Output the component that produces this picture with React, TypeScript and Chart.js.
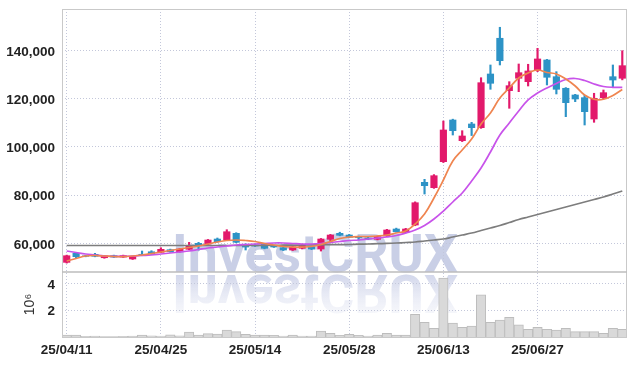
import React, { useEffect, useRef } from 'react';
import { Chart, registerables } from 'chart.js';

Chart.register(...registerables);

const dates = [
  '25/04/11', '25/04/14', '25/04/15', '25/04/16', '25/04/17', '25/04/18', '25/04/21', '25/04/22', '25/04/23', '25/04/24',
  '25/04/25', '25/04/28', '25/04/29', '25/04/30', '25/05/02', '25/05/07', '25/05/08', '25/05/09', '25/05/12', '25/05/13',
  '25/05/14', '25/05/15', '25/05/16', '25/05/19', '25/05/20', '25/05/21', '25/05/22', '25/05/23', '25/05/26', '25/05/27',
  '25/05/28', '25/05/29', '25/05/30', '25/06/02', '25/06/04', '25/06/05', '25/06/09', '25/06/10', '25/06/11', '25/06/12',
  '25/06/13', '25/06/16', '25/06/17', '25/06/18', '25/06/19', '25/06/20', '25/06/23', '25/06/24', '25/06/25', '25/06/26',
  '25/06/27', '25/06/30', '25/07/01', '25/07/02', '25/07/03', '25/07/04', '25/07/07', '25/07/08', '25/07/09', '25/07/10',
];

const opens = [
  52100, 55850, 54800, 55440, 54020, 54900, 54300, 53500, 55450, 56500,
  56270, 57350, 56520, 57510, 60000, 59710, 61780, 61370, 64150, 59590,
  59300, 59590, 58750, 58170, 57220, 57930, 58590, 57630, 61660, 64150,
  63440, 62740, 62200, 61660, 63030, 65930, 64560, 67590, 85310, 83070,
  93860, 111160, 102570, 109500, 107960, 130240, 145060, 123310, 128460, 127050,
  131610, 136050, 129120, 124310, 121530, 120420, 111570, 120410, 129120, 128460,
];
const highs = [
  55100, 56000, 55000, 55850, 55000, 55100, 55100, 54600, 56800, 56930,
  58170, 57600, 57900, 60400, 60400, 61600, 62200, 65640, 64400, 59800,
  59500, 59800, 59000, 58400, 58700, 59600, 58800, 62000, 63700, 64600,
  63700, 63000, 62500, 63000, 65800, 66300, 66200, 77200, 86550, 88500,
  110740, 111500, 106720, 110200, 128700, 133980, 149620, 127050, 134390, 134270,
  140900, 136300, 131200, 124600, 121800, 121400, 122240, 123600, 133980, 139900,
];
const lows = [
  51800, 53800, 54400, 54400, 53800, 54100, 54100, 53300, 54850, 55400,
  56100, 56300, 56300, 57300, 57200, 59500, 60400, 61200, 60200, 57220,
  58700, 57700, 58300, 57000, 57000, 57700, 57400, 56800, 60600, 63100,
  62300, 61400, 61500, 61400, 62800, 64600, 64300, 67300, 80450, 82800,
  93500, 104930, 102200, 104700, 107700, 123890, 133980, 116010, 122900, 125260,
  131200, 125680, 121950, 112530, 118750, 109080, 110200, 119900, 124970, 127800,
];
const closes = [
  54850, 54440, 54600, 54600, 54850, 54300, 54900, 54440, 54900, 55560,
  57510, 56520, 57630, 59000, 59000, 61370, 60660, 64810, 60410, 58460,
  58880, 57930, 58460, 57220, 58460, 59300, 57630, 61780, 63440, 63320,
  62490, 62320, 61780, 62740, 65520, 64810, 65930, 76840, 83900, 88050,
  107010, 106720, 104520, 107960, 126630, 126380, 135770, 125390, 130780, 131490,
  136470, 128870, 123890, 118330, 119870, 114600, 120160, 122490, 127750, 133690,
];

const ma5 = [
  52660, 53690, 54730, 54940, 54730, 54520, 54440, 54730, 55150, 55770,
  56390, 57010, 57640, 58260, 58880, 59710, 60540, 61160, 61370, 61160,
  60750, 59920, 59290, 58670, 58460, 58460, 58670, 59500, 60750, 61990,
  62610, 62820, 62820, 63030, 63440, 64270, 65100, 68010, 72160, 78800,
  86260, 94150, 98710, 103270, 109500, 114060, 120280, 124430, 128580, 130660,
  131900, 130870, 130240, 128170, 125260, 121530, 119750, 119750, 121320, 123810,
];
const ma10 = [
  56810, 56180, 55560, 55150, 54730, 54610, 54610, 54730, 54940, 55150,
  55560, 55980, 56390, 56810, 57430, 58050, 58460, 58880, 59290, 59500,
  59710, 59920, 60120, 60120, 59920, 59710, 59710, 59920, 60330, 60750,
  61160, 61370, 61780, 62200, 62610, 63240, 64270, 65520, 67390, 70080,
  73400, 77140, 80870, 85850, 91240, 97880, 104930, 109910, 114890, 119460,
  122360, 124430, 126300, 127960, 128380, 127550, 126090, 125060, 124720, 124720,
];
const ma60 = [
  59100, 59100, 59100, 59100, 59100, 59100, 59100, 59100, 59100, 59100,
  59100, 59100, 59100, 59100, 59100, 59100, 59100, 59100, 59100, 59100,
  59100, 59130, 59170, 59210, 59250, 59290, 59340, 59380, 59420, 59460,
  59500, 59630, 59710, 59830, 59960, 60120, 60330, 60540, 60950, 61370,
  61780, 62610, 63440, 64270, 65310, 66350, 67390, 68630, 69880, 70920,
  71950, 72990, 74020, 75060, 76100, 77140, 78170, 79210, 80450, 81700,
];

const volumes = [
  150000, 150000, 50000, 60000, 40000, 40000, 50000, 60000, 140000, 80000,
  70000, 160000, 80000, 370000, 150000, 250000, 220000, 520000, 400000, 200000,
  150000, 150000, 120000, 70000, 150000, 70000, 70000, 450000, 270000, 120000,
  200000, 120000, 70000, 150000, 270000, 150000, 150000, 1700000, 1100000, 650000,
  4400000, 1030000, 730000, 820000, 3150000, 1100000, 1270000, 1470000, 900000, 580000,
  730000, 580000, 520000, 650000, 400000, 400000, 400000, 280000, 650000, 580000,
];

const priceTicks = [60000, 80000, 100000, 120000, 140000];
const volumeTicks = [2000000, 4000000];
const priceMin = 48100;
const priceMax = 157200;
const volumeMin = 0;
const volumeMax = 4850000;
const watermarkText = 'InvestCRUX';
const volumeTitle = '10⁶';

const UP = '#e2196b';
const DOWN = '#2d93c6';
const GRID = '#c3c7da';
const FRAME = '#c9c9c9';
const FONT_FAMILY = "'Liberation Sans', Arial, sans-serif";

const watermarkPlugin = {
  id: 'watermark',
  beforeDraw(chart: any) {
    const { ctx } = chart;
    const y0 = chart.scales.y.bottom;
    ctx.save();
    ctx.font = 'bold 54px Roboto';
    const w = ctx.measureText(watermarkText).width;
    const sx = 286 / w;
    ctx.textAlign = 'center';
    ctx.textBaseline = 'alphabetic';
    ctx.translate(315, y0 - 0.5);
    ctx.scale(sx, 1);
    ctx.fillStyle = 'rgba(194, 200, 226, 0.88)';
    ctx.fillText(watermarkText, 0, 0);
    ctx.restore();

    ctx.save();
    ctx.font = 'bold 54px Roboto';
    ctx.textAlign = 'center';
    ctx.textBaseline = 'alphabetic';
    ctx.translate(315, y0 + 3);
    ctx.scale(sx, -1);
    const g = ctx.createLinearGradient(0, 0, 0, -40);
    g.addColorStop(0, 'rgba(206, 211, 233, 0.9)');
    g.addColorStop(1, 'rgba(228, 231, 244, 0.3)');
    ctx.fillStyle = g;
    ctx.fillText(watermarkText, 0, 0);
    ctx.restore();
  },
};

const framePlugin = {
  id: 'frame',
  afterDraw(chart: any) {
    const { ctx, chartArea } = chart;
    const sep = chart.scales.y.bottom;
    ctx.save();
    ctx.strokeStyle = FRAME;
    ctx.lineWidth = 1;
    ctx.strokeRect(Math.round(chartArea.left) + 0.5, Math.round(chartArea.top) + 0.5,
      Math.round(chartArea.right - chartArea.left) - 1, Math.round(chartArea.bottom - chartArea.top));
    ctx.strokeStyle = '#bdbdbd';
    ctx.lineWidth = 1.5;
    ctx.beginPath();
    ctx.moveTo(chartArea.left, sep);
    ctx.lineTo(chartArea.right, sep);
    ctx.stroke();
    ctx.restore();
  },
};

export default function App() {
  const canvasRef = useRef<HTMLCanvasElement | null>(null);

  useEffect(() => {
    if (!canvasRef.current) return;
    const colors = opens.map((o, i) => (closes[i] >= o ? UP : DOWN));
    const wickData = lows.map((l, i) => [l, highs[i]]);
    const bodyData = opens.map((o, i) => {
      const c = closes[i];
      const lo = Math.min(o, c);
      const hi = Math.max(o, c);
      return [lo, hi - lo < 150 ? lo + 150 : hi];
    });
    const tickFont = { family: FONT_FAMILY, size: 13.5, weight: 'bold' };

    const chart = new Chart(canvasRef.current, {
      type: 'bar',
      data: {
        labels: dates,
        datasets: [
          { type: 'line', label: 'MA5', data: ma5, yAxisID: 'y', borderColor: '#ef8550', borderWidth: 1.7, pointRadius: 0, tension: 0.4, order: 0 } as any,
          { type: 'line', label: 'MA10', data: ma10, yAxisID: 'y', borderColor: '#c853ea', borderWidth: 1.7, pointRadius: 0, tension: 0.4, order: 0 } as any,
          { type: 'line', label: 'MA60', data: ma60, yAxisID: 'y', borderColor: '#7d7d7d', borderWidth: 1.7, pointRadius: 0, tension: 0.4, order: 0 } as any,
          { type: 'bar', label: 'body', data: bodyData, yAxisID: 'y', backgroundColor: colors, barThickness: 6.5, grouped: false, order: 1 } as any,
          { type: 'bar', label: 'wick', data: wickData, yAxisID: 'y', backgroundColor: colors, barThickness: 1.5, grouped: false, order: 2 } as any,
          { type: 'bar', label: 'volume', data: volumes, yAxisID: 'yv', backgroundColor: '#d9d9d9', borderColor: '#bdbdbd', borderWidth: 1, barPercentage: 1, categoryPercentage: 1, grouped: false, order: 3 } as any,
        ],
      },
      options: {
        animation: false,
        responsive: true,
        maintainAspectRatio: false,
        layout: { padding: { top: 9, right: 8, left: 0, bottom: 0 } },
        plugins: { legend: { display: false }, tooltip: { enabled: false } },
        scales: {
          x: {
            type: 'category',
            offset: true,
            grid: {
              color: (c: any) => (c.index % 10 === 0 ? GRID : 'rgba(0,0,0,0)'),
              drawTicks: false,
              offset: false,
            },
            border: { display: false, dash: [1, 2] },
            ticks: {
              autoSkip: false,
              maxRotation: 0,
              padding: 5,
              color: '#222',
              font: tickFont,
              callback: (_v: any, i: number) => (i % 10 === 0 ? dates[i] : ''),
            },
            afterFit: (s: any) => { s.height = 29; s.paddingLeft = 0; s.paddingRight = 0; },
          },
          yv: {
            type: 'linear',
            position: 'left',
            stack: 'panels',
            stackWeight: 65,
            weight: 1,
            min: volumeMin,
            max: volumeMax,
            afterBuildTicks: (s: any) => { s.ticks = volumeTicks.map((v) => ({ value: v })); },
            grid: { color: GRID, drawTicks: false },
            border: { display: false, dash: [1, 2] },
            ticks: { padding: 7, labelOffset: 1.5, color: '#222', font: tickFont, callback: (v: any) => String(Number(v) / 1000000) },
            title: { display: true, text: volumeTitle, color: '#333', font: { family: FONT_FAMILY, size: 14 }, padding: { top: 22, bottom: 0 } },
            afterFit: (s: any) => { s.width = 62; s.paddingTop = 0; s.paddingBottom = 0; },
          },
          y: {
            type: 'linear',
            position: 'left',
            stack: 'panels',
            stackWeight: 263,
            weight: 2,
            min: priceMin,
            max: priceMax,
            afterBuildTicks: (s: any) => { s.ticks = priceTicks.map((v) => ({ value: v })); },
            grid: { color: GRID, drawTicks: false },
            border: { display: false, dash: [1, 2] },
            ticks: { padding: 7, labelOffset: 1.5, color: '#222', font: tickFont, callback: (v: any) => Number(v).toLocaleString('en-US') },
            afterFit: (s: any) => { s.width = 62; s.paddingTop = 0; s.paddingBottom = 0; },
          },
        },
      } as any,
      plugins: [watermarkPlugin, framePlugin],
    });
    return () => chart.destroy();
  }, []);

  return (
    <div style={{ position: 'absolute', left: 0, top: 0, width: 635, height: 366, background: '#fff' }}>
      <canvas ref={canvasRef} />
    </div>
  );
}
